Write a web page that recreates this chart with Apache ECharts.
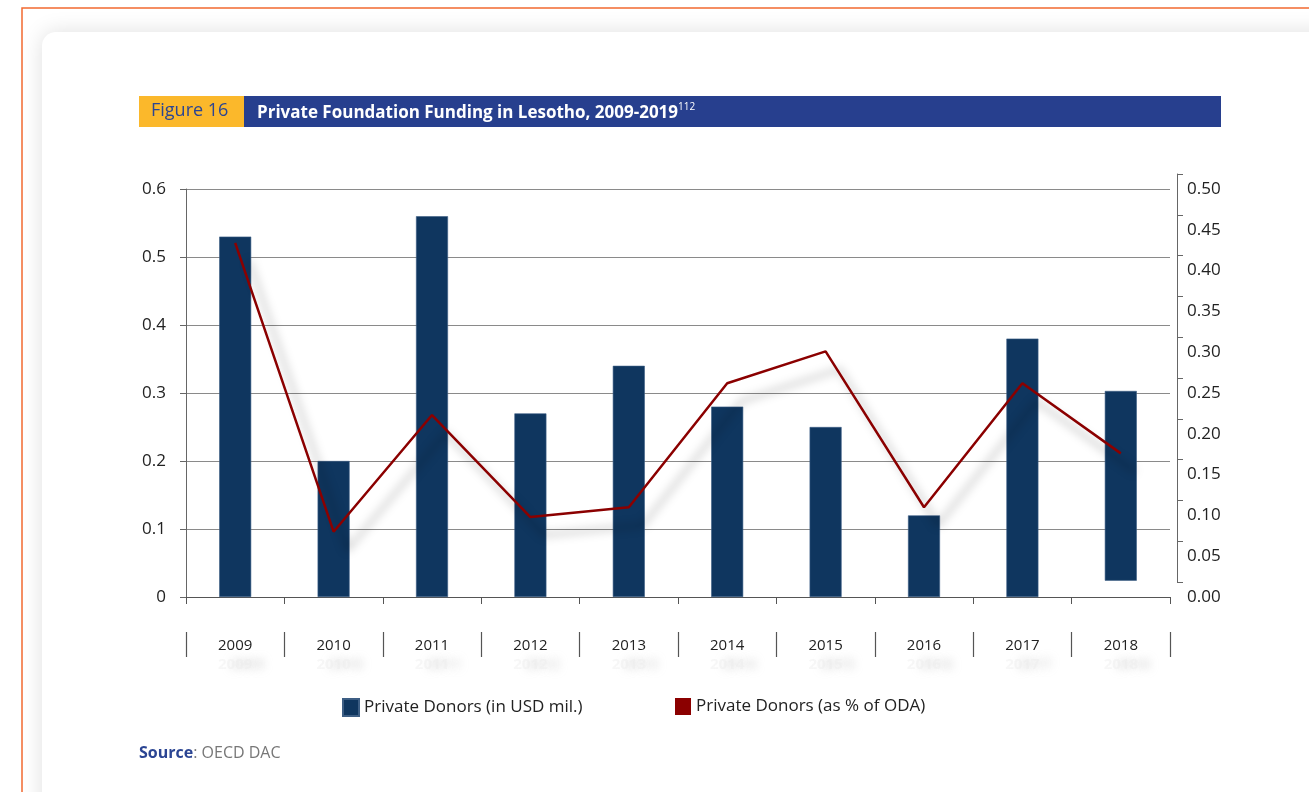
<!DOCTYPE html>
<html>
<head>
<meta charset="utf-8">
<script src="https://cdn.jsdelivr.net/npm/echarts@6/dist/echarts.min.js"></script>
<style>
  html, body { margin: 0; padding: 0; background: #fff; }
  #main { width: 1309px; height: 792px; }
</style>
</head>
<body>
<div id="main"></div>
<script>
var years = ['2009', '2010', '2011', '2012', '2013', '2014', '2015', '2016', '2017', '2018'];
// USD mil. (bar), 2018 bar floats on a small base
var donorsBase = [0, 0, 0, 0, 0, 0, 0, 0, 0, 0.024];
var donorsUsd = [0.53, 0.2, 0.56, 0.27, 0.34, 0.28, 0.25, 0.12, 0.38, 0.279];
// share of ODA (line, right axis)
var donorsOda = [0.434, 0.08, 0.223, 0.098, 0.11, 0.262, 0.301, 0.11, 0.262, 0.176];

var leftTicks = { min: 0, max: 0.6, interval: 0.1 };
var rightTicks = { min: 0, max: 0.5, interval: 0.05 };

var FONT = '"Open Sans", sans-serif';
var chartDom = document.getElementById('main');
var myChart = echarts.init(chartDom);
var option;

option = {
  backgroundColor: '#fff',
  animation: false,
  textStyle: { fontFamily: FONT },
  graphic: [
    // orange page frame
    { type: 'rect', shape: { x: 22, y: 8, width: 1400, height: 900 },
      style: { fill: 'none', stroke: '#F26A30', lineWidth: 1.5 }, z: -10 },
    // card with soft shadow
    { type: 'rect', shape: { x: 42, y: 32, width: 1400, height: 900, r: 14 },
      style: { fill: '#fff', shadowBlur: 22, shadowColor: 'rgba(0,0,0,0.13)' }, z: -9 },
    // header
    { type: 'rect', shape: { x: 139, y: 96, width: 105, height: 31 }, style: { fill: '#FBB82B' } },
    { type: 'rect', shape: { x: 244, y: 96, width: 977, height: 31 }, style: { fill: '#273F8E' } },
    { type: 'text', left: 151, top: 102,
      style: { text: 'Figure 16', fill: '#2B4593', font: '18px ' + FONT } },
    { type: 'text', left: 257, top: 102,
      style: {
        text: '{t|Private Foundation Funding in Lesotho, 2009-2019}{s|112}',
        rich: {
          t: { fill: '#fff', fontSize: 17, fontWeight: 'bold', fontFamily: FONT, lineHeight: 22 },
          s: { fill: '#fff', fontSize: 10, fontFamily: FONT, verticalAlign: 'top', lineHeight: 22, padding: [0, 0, 6, 0] }
        }
      } },
    // source
    { type: 'text', left: 139, top: 745,
      style: {
        text: '{b|Source}{n|: OECD DAC}',
        rich: {
          b: { fill: '#2B4593', fontSize: 16, fontWeight: 'bold', fontFamily: FONT },
          n: { fill: '#777', fontSize: 16, fontFamily: FONT }
        }
      } }
  ],
  legend: [
    { data: ['Private Donors (in USD mil.)'], left: 337, top: 693, icon: 'rect',
      itemWidth: 16, itemHeight: 17, textStyle: { fontSize: 17, color: '#222', fontFamily: FONT } },
    { data: ['Private Donors (as % of ODA)'], left: 670, top: 693, icon: 'rect',
      itemWidth: 16, itemHeight: 17, textStyle: { fontSize: 17, color: '#222', fontFamily: FONT } }
  ],
  grid: [
    { left: 186, right: 139, top: 189, bottom: 195 },
    // decorative right axis (drawn slightly higher, as in the source figure)
    { left: 1100, right: 132, top: 174, height: 408 },
    // boxed year labels row
    { left: 186, right: 139, top: 610, height: 22 }
  ],
  xAxis: [
    { type: 'category', data: years, gridIndex: 0,
      axisLine: { lineStyle: { color: '#555', width: 1.2 } },
      axisTick: { show: true, length: 7, lineStyle: { color: '#555' } },
      axisLabel: { show: false } },
    { type: 'category', data: years, gridIndex: 2, position: 'bottom',
      axisLine: { show: true, lineStyle: { color: 'rgba(0,0,0,0)' } },
      axisTick: { show: true, length: 25, lineStyle: { color: '#555', width: 1.2 } },
      axisLabel: { margin: 6, fontSize: 15, color: '#222', fontFamily: FONT } },
    { type: 'category', data: years, gridIndex: 2, position: 'bottom', offset: 25,
      axisLine: { show: false }, axisTick: { show: false },
      axisLabel: { margin: 0, fontSize: 15, fontWeight: 'bold', color: 'rgba(235,235,235,0.4)', fontFamily: FONT,
        textShadowColor: 'rgba(160,160,160,1)', textShadowBlur: 10, textShadowOffsetX: 12 } },
    { type: 'category', data: years, gridIndex: 1, show: false }
  ],
  yAxis: [
    { type: 'value', gridIndex: 0, min: leftTicks.min, max: leftTicks.max, interval: leftTicks.interval,
      axisLine: { show: true, lineStyle: { color: '#666' } },
      axisTick: { show: true, length: 6, lineStyle: { color: '#666' } },
      splitLine: { lineStyle: { color: '#8a8a8a', width: 1.2 } },
      axisLabel: { fontSize: 17, color: '#222', margin: 20, fontFamily: FONT,
        formatter: function (v) { return v === 0 ? '0' : v.toFixed(1); } } },
    { type: 'value', gridIndex: 0, position: 'right', min: rightTicks.min, max: rightTicks.max, interval: rightTicks.interval,
      axisLine: { show: false }, axisTick: { show: false }, splitLine: { show: false },
      axisLabel: { fontSize: 17, color: '#222', margin: 17, fontFamily: FONT,
        formatter: function (v) { return v.toFixed(2); } } },
    { type: 'value', gridIndex: 1, position: 'right', min: rightTicks.min, max: rightTicks.max, interval: rightTicks.interval,
      axisLine: { show: true, lineStyle: { color: '#666' } },
      axisTick: { show: true, length: 6, lineStyle: { color: '#666' } },
      splitLine: { show: false }, axisLabel: { show: false } },
    { type: 'value', gridIndex: 2, show: false }
  ],
  series: [
    {
      name: 'base', type: 'bar', stack: 'donors', xAxisIndex: 0, yAxisIndex: 0,
      data: donorsBase, barWidth: 32, itemStyle: { color: 'rgba(0,0,0,0)' }, silent: true
    },
    {
      name: 'Private Donors (in USD mil.)', type: 'bar', stack: 'donors', xAxisIndex: 0, yAxisIndex: 0,
      data: donorsUsd, barWidth: 32,
      itemStyle: { color: '#0F365F', borderColor: '#3d5e84', borderWidth: 0.6 }
    },
    {
      name: 'Private Donors (as % of ODA)', type: 'line', xAxisIndex: 0, yAxisIndex: 1,
      data: donorsOda, symbol: 'none', z: 5,
      itemStyle: { color: '#8B0000' },
      lineStyle: { color: '#8B0000', width: 2.5,
        shadowColor: 'rgba(0,0,0,0.35)', shadowBlur: 10, shadowOffsetX: 14, shadowOffsetY: 18 }
    }
  ]
};

option && myChart.setOption(option);
</script>
</body>
</html>
